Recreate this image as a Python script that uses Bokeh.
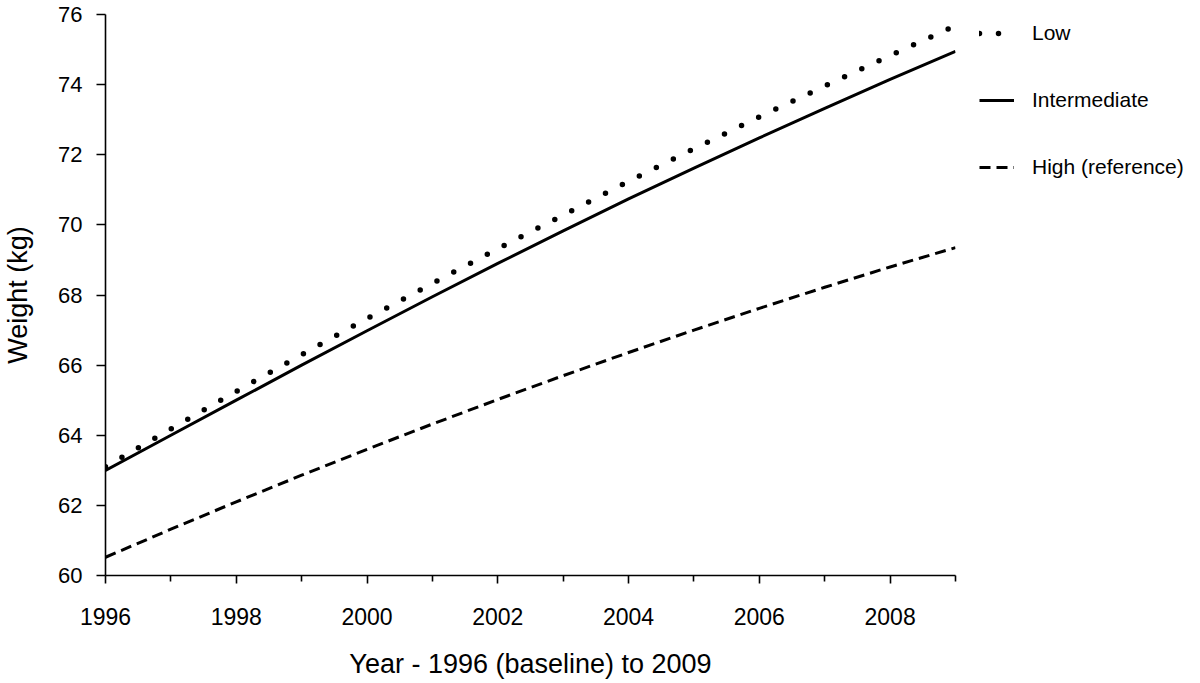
from bokeh.plotting import figure
from bokeh.models import FixedTicker, Legend, LegendItem, Range1d
from bokeh.embed import file_html
from bokeh.resources import INLINE

years = [1996, 1997, 1998, 1999, 2000, 2001, 2002, 2003, 2004, 2005, 2006, 2007, 2008, 2009]
low = [63.10, 64.18, 65.25, 66.30, 67.33, 68.33, 69.32, 70.28, 71.24, 72.17, 73.08, 73.96, 74.83, 75.68]
intermediate = [63.00, 64.00, 65.00, 66.00, 66.98, 67.95, 68.90, 69.83, 70.74, 71.62, 72.48, 73.32, 74.15, 74.95]
high = [60.52, 61.32, 62.10, 62.86, 63.60, 64.32, 65.02, 65.70, 66.36, 67.00, 67.62, 68.22, 68.80, 69.35]

major_x = [1996, 1998, 2000, 2002, 2004, 2006, 2008]
minor_x = [1997, 1999, 2001, 2003, 2005, 2007, 2009]
y_ticks = [60, 62, 64, 66, 68, 70, 72, 74, 76]

FONT = "Liberation Sans"
FRAME_W, FRAME_H = 850, 561

p = figure(frame_width=FRAME_W, frame_height=FRAME_H, output_backend="svg", toolbar_location=None,
           x_range=Range1d(1996, 2009), y_range=Range1d(60, 76),
           min_border_left=101, min_border_right=233, min_border_top=14, min_border_bottom=100)
p.outline_line_color = None
p.xgrid.visible = False
p.ygrid.visible = False

r_low = p.line(years, low, line_color="black", line_width=5.5, line_dash="0 19", line_cap="round")
r_int = p.line(years, intermediate, line_color="black", line_width=3)
r_high = p.line(years, high, line_color="black", line_width=3, line_dash="11 6")

for ax in (p.xaxis[0], p.yaxis[0]):
    ax.axis_line_width = 1.6
    ax.axis_line_color = "black"
    ax.major_tick_line_width = 1.6
    ax.minor_tick_line_width = 1.6
    ax.major_tick_in = 0
    ax.minor_tick_in = 0
    ax.major_label_text_font = FONT
    ax.major_label_text_color = "black"
    ax.axis_label_text_font = FONT
    ax.axis_label_text_font_size = "27px"
    ax.axis_label_text_font_style = "normal"
    ax.axis_label_text_color = "black"

xa = p.xaxis[0]
xa.ticker = FixedTicker(ticks=major_x, minor_ticks=minor_x)
xa.major_tick_out = 8
xa.minor_tick_out = 6
xa.major_label_text_font_size = "23px"
xa.major_label_standoff = 24
xa.axis_label = "Year - 1996 (baseline) to 2009"
xa.axis_label_standoff = 21

ya = p.yaxis[0]
ya.ticker = FixedTicker(ticks=y_ticks, minor_ticks=[])
ya.major_tick_out = 9
ya.minor_tick_out = 0
ya.major_label_text_font_size = "22px"
ya.major_label_standoff = 14
ya.axis_label = "Weight (kg)"
ya.axis_label_standoff = 22

legend = Legend(items=[LegendItem(label="Low", renderers=[r_low]),
                       LegendItem(label="Intermediate", renderers=[r_int]),
                       LegendItem(label="High (reference)", renderers=[r_high])],
                location=(24, FRAME_H - 13 - 152), orientation="vertical",
                glyph_width=35, glyph_height=22, label_height=22,
                label_standoff=18, spacing=43, padding=0, margin=0,
                border_line_color=None, background_fill_alpha=0,
                label_text_font=FONT, label_text_font_size="21px", label_text_color="black")
p.add_layout(legend, "right")

open("out.html", "w").write(file_html(p, INLINE))
